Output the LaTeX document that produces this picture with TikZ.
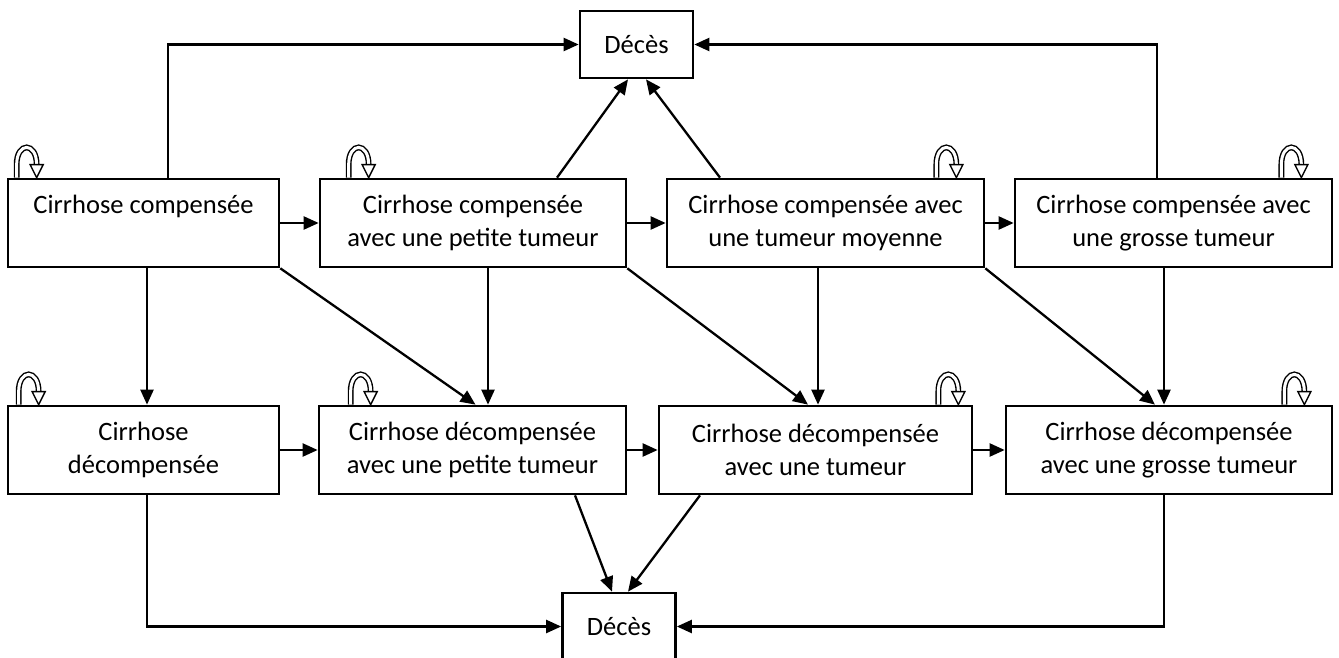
\documentclass[tikz,border=0pt]{standalone}
\usepackage{fontspec}
\setmainfont{Carlito}
\usetikzlibrary{arrows.meta,calc}

% self transition drawn on top of a box: anchor, x offset
\newcommand{\selfloop}[2]{%
  \draw[loopline] ($(#1)+(#2,0)$) -- ++(0,-13) .. controls +(0,-23) and +(0,-23) .. ++(20,0) -- ++(0,1);
  \draw[loophead] ($(#1)+(#2,0)$) ++(13.5,-13) -- ++(13,0) -- ++(-6.5,13) -- cycle;
}

\begin{document}
\begin{tikzpicture}[->,>={Triangle[length=15pt,width=13pt]},line width=2.3pt,
                    x=1pt,y=-1pt,font=\fontsize{26.5}{33}\selectfont]
  \tikzstyle{state box}=[rectangle,draw=black,line width=2.7pt,fill=white,align=center,
                         minimum height=88pt,inner sep=0pt]
  \tikzstyle{death}=[rectangle,draw=black,line width=2.7pt,fill=white,
                     minimum width=113pt,minimum height=67pt]
  \tikzstyle{loopline}=[-,double=white,double distance=3pt,line width=1.4pt]
  \tikzstyle{loophead}=[-,fill=white,line width=1.4pt,line join=miter]

  \useasboundingbox (0,0) rectangle (1339,658);

  \node[death] (d1) at (636.5,44.5) {Décès};
  \node[death] (d2) at (619,626.5) {Décès};

  \node[state box,minimum width=271pt] (a1) at (143.5,223) {Cirrhose compensée\\\phantom{Cp}};
  \node[state box,minimum width=306pt] (a2) at (473,223)   {Cirrhose compensée\\avec une petite tumeur};
  \node[state box,minimum width=317pt] (a3) at (825.5,223) {Cirrhose compensée avec\\une tumeur moyenne};
  \node[state box,minimum width=317pt] (a4) at (1173.5,223) {Cirrhose compensée avec\\une grosse tumeur};

  \node[state box,minimum width=271pt] (b1) at (143.5,450) {Cirrhose\\décompensée};
  \node[state box,minimum width=307pt] (b2) at (472.5,450) {Cirrhose décompensée\\avec une petite tumeur};
  \node[state box,minimum width=313pt] (b3) at (815.5,450) {Cirrhose décompensée\\avec une tumeur};
  \node[state box,minimum width=326pt] (b4) at (1169,450)  {Cirrhose décompensée\\avec une grosse tumeur};

  % along the rows
  \draw (a1) -- (a2);
  \draw (a2) -- (a3);
  \draw (a3) -- (a4);
  \draw (b1) -- (b2);
  \draw (b2) -- (b3);
  \draw (b3) -- (b4);

  % upper Décès
  \draw ($(a1.north)+(24.5,0)$) |- (d1.west);
  \draw ($(a4.north)+(-16.5,0)$) |- (d1.east);
  \draw ($(a2.north)+(84,0)$) -- ($(d1.south)+(-8.5,0)$);
  \draw ($(a3.north)+(-105.5,0)$) -- ($(d1.south)+(9.5,0)$);

  % compensée -> décompensée
  \draw ($(a1.south)+(3.5,0)$) -- ($(b1.north)+(3.5,0)$);
  \draw ($(a2.south)+(15,0)$) -- ($(b2.north)+(15.5,0)$);
  \draw ($(a3.south)+(-7.5,0)$) -- ($(b3.north)+(2.5,0)$);
  \draw ($(a4.south)+(-9.5,0)$) -- ($(b4.north)+(-5,0)$);
  \draw (a1.south east) -- ($(b2.north)+(3,0)$);
  \draw (a2.south east) -- ($(b3.north)+(-7.5,0)$);
  \draw (a3.south east) -- ($(b4.north)+(-14,0)$);

  % lower Décès
  \draw ($(b1.south)+(3.5,0)$) |- (d2.west);
  \draw ($(b4.south)+(-5,0)$) |- (d2.east);
  \draw ($(b2.south)+(102.5,0)$) -- ($(d2.north)+(-7,0)$);
  \draw ($(b3.south)+(-115.5,0)$) -- ($(d2.north)+(9,0)$);

  \selfloop{a1.north west}{10}
  \selfloop{a2.north west}{30}
  \selfloop{a3.north east}{-49}
  \selfloop{a4.north east}{-52}
  \selfloop{b1.north west}{12}
  \selfloop{b2.north west}{33}
  \selfloop{b3.north east}{-35}
  \selfloop{b4.north east}{-49}
\end{tikzpicture}
\end{document}
